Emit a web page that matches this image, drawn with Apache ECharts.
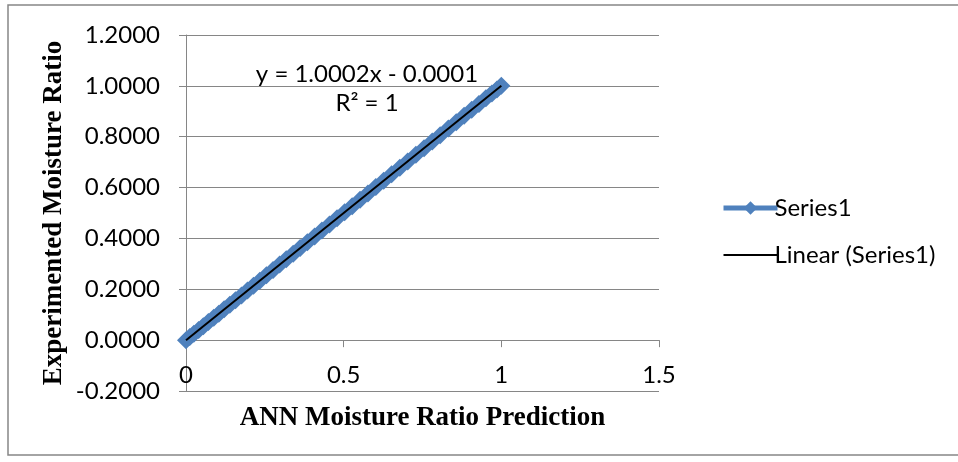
<!DOCTYPE html>
<html>
<head>
<meta charset="utf-8">
<script src="https://cdn.jsdelivr.net/npm/echarts@6/dist/echarts.min.js"></script>
<style>html,body{margin:0;padding:0;background:#fff}#c{width:958px;height:462px}</style>
</head>
<body>
<div id="c"></div>
<script>
// ANN prediction (x) vs experimented moisture ratio (y)
var annPred = [0.000,0.012,0.025,0.040,0.055,0.071,0.088,0.104,0.121,0.139,0.157,0.176,0.195,0.214,0.234,0.255,0.276,0.297,0.318,0.340,0.362,0.385,0.408,0.431,0.455,0.479,0.503,0.527,0.552,0.577,0.602,0.627,0.652,0.678,0.703,0.729,0.755,0.781,0.806,0.832,0.857,0.882,0.906,0.929,0.951,0.970,0.986,1.000];
var expMR   = [0.000,0.012,0.025,0.040,0.055,0.071,0.088,0.104,0.121,0.139,0.157,0.176,0.195,0.214,0.234,0.255,0.276,0.297,0.318,0.340,0.362,0.385,0.408,0.431,0.455,0.479,0.503,0.527,0.552,0.577,0.602,0.627,0.652,0.678,0.703,0.729,0.755,0.781,0.806,0.832,0.857,0.882,0.906,0.929,0.951,0.970,0.986,1.000];
// Linear trendline endpoints (y = 1.0002x - 0.0001)
var trendX = [0, 1];
var trendY = [-0.0001, 1.0001];
var xTicks = [0, 0.5, 1, 1.5];
var yTicks = [-0.2, 0, 0.2, 0.4, 0.6, 0.8, 1.0, 1.2];
var eqText = 'y = 1.0002x - 0.0001';
var r2Text = 'R² = 1';

var seriesData = annPred.map(function(x, i){ return [x, expMR[i]]; });
var trendData = trendX.map(function(x, i){ return [x, trendY[i]]; });

var chart = echarts.init(document.getElementById('c'));
var labelFont = 'Lato, "Open Sans", sans-serif';
chart.setOption({
  animation: false,
  backgroundColor: '#fff',
  grid: {left: 186, right: 299, top: 35, bottom: 71, containLabel: false, outerBoundsMode: 'none'},
  xAxis: {
    type: 'value', min: 0, max: 1.5, interval: 0.5,
    name: 'ANN Moisture Ratio Prediction', nameLocation: 'middle', nameGap: 14,
    nameTextStyle: {fontFamily: '"Liberation Serif", serif', fontWeight: 'bold', fontSize: 27, color: '#000', verticalAlign: 'top'},
    axisLine: {show: true, onZero: true, lineStyle: {color: '#868686', width: 1}},
    axisTick: {show: true, length: 7, lineStyle: {color: '#868686'}},
    axisLabel: {color: '#000', fontSize: 24, fontFamily: labelFont, margin: -28,
      formatter: function(v){ return String(v); }},
    splitLine: {show: false}
  },
  yAxis: {
    type: 'value', min: -0.2, max: 1.2, interval: 0.2,
    name: 'Experimented Moisture Ratio', nameLocation: 'middle', nameGap: 118,
    nameTextStyle: {fontFamily: '"Liberation Serif", serif', fontWeight: 'bold', fontSize: 27, color: '#000'},
    axisLine: {show: true, lineStyle: {color: '#868686', width: 1}},
    axisTick: {show: true, length: 7, lineStyle: {color: '#868686'}},
    axisLabel: {color: '#000', fontSize: 24, fontFamily: labelFont, margin: 26,
      formatter: function(v){ return v.toFixed(4); }},
    splitLine: {show: true, lineStyle: {color: '#868686', width: 1}}
  },
  legend: {
    orient: 'vertical', left: 716, top: 191, itemGap: 23, itemWidth: 54, itemHeight: 17,
    textStyle: {fontSize: 24, fontFamily: labelFont, color: '#000', padding: [0,0,0,-8]},
    data: [
      {name: 'Series1', lineStyle: {width: 5, color: '#4F81BD'}},
      {name: 'Linear (Series1)', icon: 'path://M0,0H54V2H0Z', itemStyle: {color: '#000'}}
    ]
  },
  graphic: [
    {type: 'rect', shape: {x: 8, y: 5, width: 960, height: 450}, style: {fill: 'none', stroke: '#868686', lineWidth: 1.5}, z: -1},
    {type: 'text', x: 367, y: 74, style: {text: eqText, font: '24px ' + labelFont, fill: '#000', textAlign: 'center', textVerticalAlign: 'middle'}},
    {type: 'text', x: 367, y: 103, style: {text: r2Text, font: '24px ' + labelFont, fill: '#000', textAlign: 'center', textVerticalAlign: 'middle'}}
  ],
  series: [
    {
      name: 'Series1', type: 'line', data: seriesData,
      symbol: 'diamond', symbolSize: 18, showSymbol: true,
      lineStyle: {color: '#4F81BD', width: 9},
      itemStyle: {color: '#4F81BD'}, z: 2
    },
    {
      name: 'Linear (Series1)', type: 'line', data: trendData,
      symbol: 'none', lineStyle: {color: '#000', width: 2},
      itemStyle: {color: '#000'}, z: 3
    }
  ]
});
</script>
</body>
</html>
